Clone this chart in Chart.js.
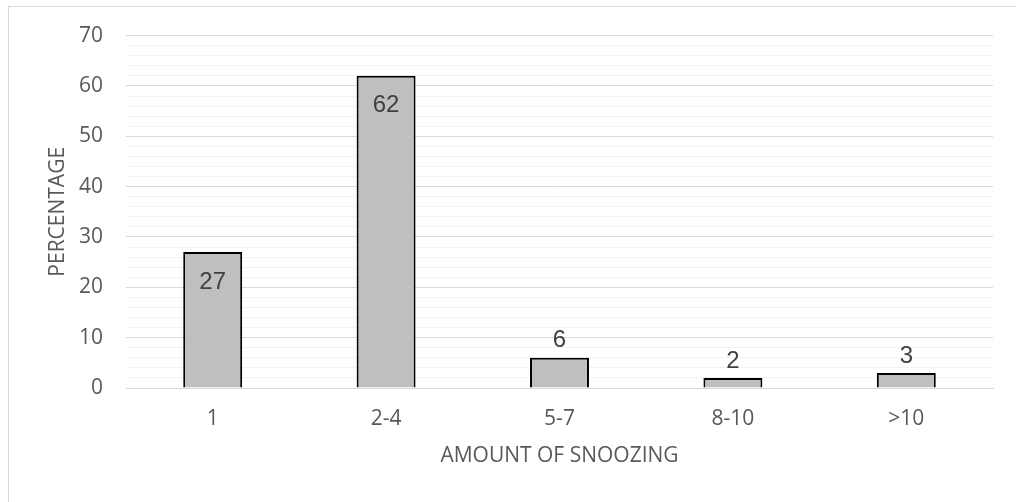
<!DOCTYPE html>
<html>
<head>
<meta charset="utf-8">
<script src="https://cdn.jsdelivr.net/npm/chart.js@4/dist/chart.umd.min.js"></script>
<style>
  html, body { margin: 0; padding: 0; background: #ffffff; }
  #wrap { position: relative; width: 1016px; height: 502px; }
</style>
</head>
<body>
<div id="wrap"><canvas id="chart" width="1016" height="502"></canvas></div>
<script>
// Snooze counts and the share of respondents for each
const categories = ['1', '2-4', '5-7', '8-10', '>10'];
const percentages = [27, 62, 6, 2, 3];
const yMin = 0;
const yMax = 70;
const yMajorStep = 10;
const yMinorStep = 2;
const xTitle = 'AMOUNT OF SNOOZING';
const yTitle = 'PERCENTAGE';

const tickFont = { family: '"Open Sans", sans-serif', size: 21 };
const tickColor = '#595959';

// Light frame around the whole chart
const framePlugin = {
  id: 'frame',
  beforeDraw(chart) {
    const ctx = chart.ctx;
    ctx.save();
    ctx.fillStyle = '#ffffff';
    ctx.fillRect(0, 0, chart.width, chart.height);
    ctx.strokeStyle = '#d9d9d9';
    ctx.lineWidth = 1;
    ctx.strokeRect(8.5, 6.5, chart.width + 20, chart.height + 20);
    ctx.restore();
  }
};

// Value labels: inside the top of tall bars, above short ones
const valueLabels = {
  id: 'valueLabels',
  afterDatasetsDraw(chart) {
    const ctx = chart.ctx;
    const meta = chart.getDatasetMeta(0);
    const data = chart.data.datasets[0].data;
    ctx.save();
    ctx.font = '24px "Liberation Sans", Arial, sans-serif';
    ctx.fillStyle = '#404040';
    ctx.textAlign = 'center';
    ctx.textBaseline = 'middle';
    meta.data.forEach((bar, i) => {
      const v = data[i];
      const y = v > 10 ? bar.y + 30 : bar.y - 17;
      ctx.fillText(String(v), bar.x, y);
    });
    ctx.restore();
  }
};

new Chart(document.getElementById('chart'), {
  type: 'bar',
  data: {
    labels: categories,
    datasets: [{
      data: percentages,
      backgroundColor: '#bfbfbf',
      borderColor: '#000000',
      borderWidth: 2,
      borderSkipped: 'bottom',
      barPercentage: 0.34,
      categoryPercentage: 1.0
    }]
  },
  options: {
    responsive: false,
    animation: false,
    devicePixelRatio: 1,
    layout: { padding: { left: 9, right: 23, top: 35, bottom: 0 } },
    plugins: {
      legend: { display: false },
      tooltip: { enabled: false }
    },
    scales: {
      x: {
        grid: { display: false, drawTicks: false },
        border: { display: true, color: '#d9d9d9', width: 1 },
        ticks: { font: tickFont, color: tickColor, padding: 18, maxRotation: 0 },
        title: {
          display: true,
          text: xTitle,
          font: tickFont,
          color: tickColor,
          padding: { top: 0, bottom: 33 }
        },
        afterFit(scale) { scale.height = 114; }
      },
      y: {
        min: yMin,
        max: yMax,
        grid: {
          drawTicks: false,
          lineWidth: 1,
          color: (c) => (c.tick && c.tick.value % yMajorStep === 0) ? '#d9d9d9' : '#f2f2f2'
        },
        border: { display: false },
        ticks: {
          stepSize: yMinorStep,
          autoSkip: false,
          font: tickFont,
          color: tickColor,
          padding: 23,
          callback: (v) => (v % yMajorStep === 0 ? String(v) : '')
        },
        title: {
          display: true,
          text: yTitle,
          font: tickFont,
          color: tickColor,
          padding: { top: 36, bottom: 0 }
        },
        afterFit(scale) { scale.width = 117; }
      }
    }
  },
  plugins: [framePlugin, valueLabels]
});
</script>
</body>
</html>
